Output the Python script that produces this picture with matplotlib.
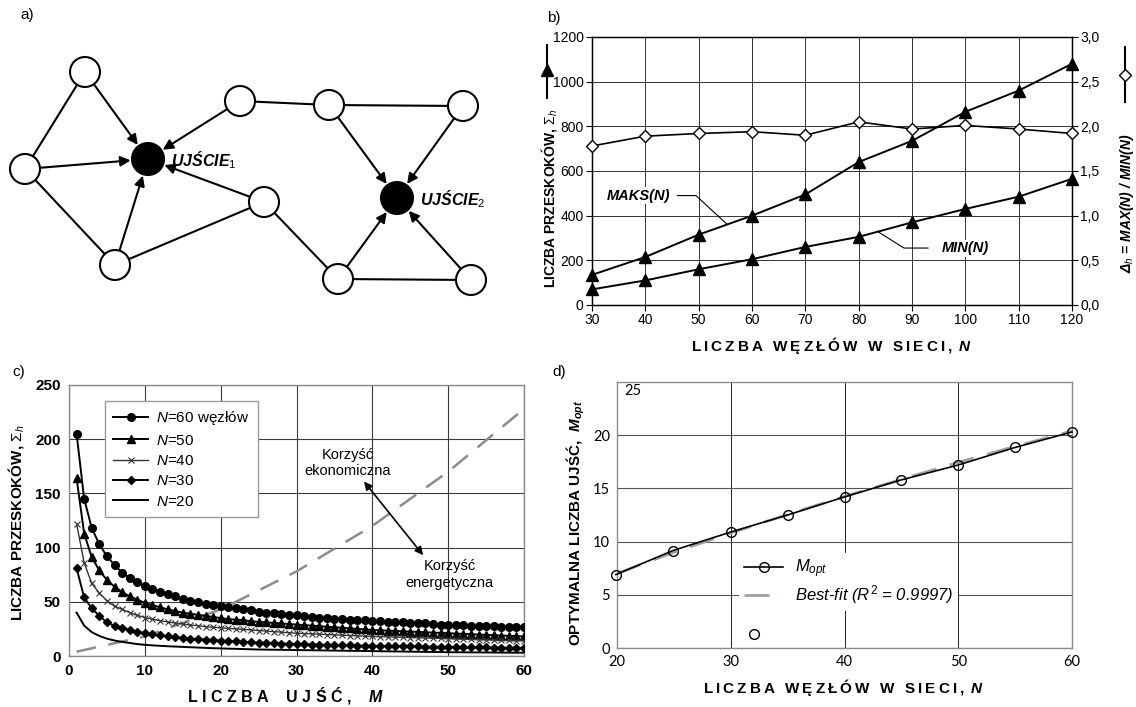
import matplotlib
matplotlib.use('Agg')
import matplotlib.pyplot as plt
from matplotlib.patches import Circle
from matplotlib.lines import Line2D
import numpy as np

plt.rcParams['font.family'] = ['Liberation Sans', 'DejaVu Sans']
plt.rcParams['mathtext.fontset'] = 'custom'
plt.rcParams['mathtext.rm'] = 'Liberation Sans'
plt.rcParams['mathtext.it'] = 'Liberation Sans:italic'
plt.rcParams['mathtext.bf'] = 'Liberation Sans:bold'
plt.rcParams['mathtext.bfit'] = 'Liberation Sans:italic:bold'

# ---- panel a: network (positions in pixels of the panel) ----
node_names = ['TL', 'L', 'BL', 'TM', 'M', 'TRM', 'TR', 'BMR', 'BR']
node_x = [85, 25, 115, 240, 264, 329, 463, 338, 471]
node_y = [72, 169, 265, 101, 202, 105, 106, 279, 280]
sink_names = ['S1', 'S2']
sink_x = [148, 397]
sink_y = [159, 198]
sink_labels = ['UJŚCIE$_1$', 'UJŚCIE$_2$']
arrow_edges = [('TL', 'S1'), ('L', 'S1'), ('BL', 'S1'), ('M', 'S1'), ('TM', 'S1'),
               ('TRM', 'S2'), ('TR', 'S2'), ('BMR', 'S2'), ('BR', 'S2')]
plain_edges = [('TL', 'L'), ('L', 'BL'), ('BL', 'M'), ('TM', 'TRM'),
               ('TRM', 'TR'), ('M', 'BMR'), ('BMR', 'BR')]

# ---- panel b ----
n_b = [30, 40, 50, 60, 70, 80, 90, 100, 110, 120]
maks_b = [135, 215, 315, 400, 495, 640, 735, 865, 960, 1080]
min_b = [70, 110, 160, 205, 260, 305, 370, 430, 485, 565]
delta_b = [1.78, 1.89, 1.92, 1.94, 1.90, 2.05, 1.97, 2.01, 1.97, 1.92]

# ---- panel c ----
m_c = list(range(1, 61))
n60 = [205, 145, 118, 103, 92, 84, 77, 72, 68, 65, 62, 59, 57, 55, 53, 51, 50, 48, 47, 46,
       45, 44, 43, 42, 41, 40, 39.5, 39, 38, 37.5, 37, 36, 35.5, 35, 34.5, 34, 33.5, 33, 33, 32.5,
       32, 31.5, 31, 31, 30.5, 30, 30, 29.5, 29, 29, 28.5, 28.5, 28, 28, 27.5, 27.5, 27, 27, 26.5, 26.5]
n50 = [164, 113, 91, 79, 70, 64, 59, 55, 52, 49, 47, 45, 43, 41.5, 40, 39, 38, 37, 36, 35,
       34, 33.5, 33, 32, 31.5, 31, 30.5, 30, 29.5, 29, 28.5, 28, 27.5, 27, 26.5, 26, 25.5, 25, 24.5, 24,
       23.7, 23.4, 23.1, 22.8, 22.5, 22.2, 21.9, 21.6, 21.3, 21, 20.7, 20.4, 20.1, 19.8, 19.5, 19.2, 18.9, 18.6, 18.3, 18]
n40 = [122, 86, 67, 58, 51, 46, 43, 40, 37.5, 35.5, 34, 32.5, 31.5, 30.5, 29.5, 28.5, 28, 27, 26.5, 26,
       25.5, 25, 24.5, 24, 23.5, 23, 22.5, 22, 21.5, 21, 20.7, 20.4, 20.1, 19.8, 19.5, 19.2, 18.9, 18.6, 18.3, 18,
       17.8, 17.6, 17.4, 17.2, 17, 16.8, 16.6, 16.4, 16.2, 15.9, 15.7, 15.5, 15.3, 15.1, 14.9, 14.7, 14.5, 14.3, 14.1, 14]
n30 = [81, 54, 44, 37, 31, 28, 26, 24, 22.5, 21, 20, 19, 18, 17.3, 16.7, 16.1, 15.6, 15.1, 14.6, 14.2,
       13.8, 13.4, 13, 12.7, 12.4, 12.1, 11.8, 11.5, 11.2, 11, 10.8, 10.6, 10.4, 10.2, 10, 9.8, 9.7, 9.6, 9.5, 9.4,
       9.3, 9.2, 9.1, 9, 8.9, 8.8, 8.7, 8.6, 8.5, 8.4, 8.3, 8.2, 8.1, 8, 7.9, 7.8, 7.7, 7.6, 7.6, 7.5]
n20 = [40, 28, 22, 18.5, 16, 14.3, 13, 12, 11, 10.3, 9.8, 9.4, 9, 8.7, 8.4, 8.1, 7.8, 7.5, 7.2, 7,
       6.8, 6.6, 6.4, 6.2, 6, 5.9, 5.8, 5.7, 5.6, 5.5, 5.4, 5.3, 5.2, 5.1, 5, 4.9, 4.8, 4.7, 4.6, 4.5,
       4.4, 4.3, 4.2, 4.1, 4, 3.9, 3.8, 3.7, 3.6, 3.5, 3.45, 3.4, 3.35, 3.3, 3.25, 3.2, 3.15, 3.1, 3.05, 3]
cost_m = [1, 10, 20, 30, 40, 50, 60]
cost_c = [4, 18, 43, 78, 120, 170, 228]

# ---- panel d ----
n_d = [19.9, 24.9, 30, 35, 40, 45, 50, 55, 60]
mopt_d = [6.9, 9.15, 10.9, 12.5, 14.2, 15.8, 17.2, 18.85, 20.3]
fit_n = [20, 25, 30, 35, 40, 45, 50, 55, 60]
fit_m = [7.0, 9.0, 10.8, 12.55, 14.25, 15.85, 17.45, 18.95, 20.4]
stray_n = [32.05]
stray_m = [1.3]

W, H = 1136, 707
fig = plt.figure(figsize=(W / 100, H / 100), dpi=100)


def ax_px(l, t, r, b):
    return fig.add_axes([l / W, 1 - b / H, (r - l) / W, (b - t) / H])


def ftext(x, y, s, **kw):
    return fig.text(x / W, 1 - y / H, s, **kw)


def spaced(s, sep='\u2009'):
    return sep.join(list(s))


# ================= a) =================
axa = ax_px(0, 0, 520, 330)
axa.set_xlim(0, 520)
axa.set_ylim(330, 0)
axa.axis('off')
pos = {}
for nm, x, y in zip(node_names, node_x, node_y):
    pos[nm] = (x, y)
for nm, x, y in zip(sink_names, sink_x, sink_y):
    pos[nm] = (x, y)

r_node = 15
r_sink = 16
for a, b in plain_edges:
    axa.plot([pos[a][0], pos[b][0]], [pos[a][1], pos[b][1]], color='black', lw=1.5, zorder=1)
for a, b in arrow_edges:
    axa.annotate('', xy=pos[b], xytext=pos[a],
                 arrowprops=dict(arrowstyle='-|>', color='black', lw=1.5,
                                 mutation_scale=15, shrinkA=r_node * 0.72, shrinkB=r_sink * 0.72 + 1),
                 zorder=1)
for nm in node_names:
    axa.add_patch(Circle(pos[nm], r_node, facecolor='white', edgecolor='black', lw=1.5, zorder=2))
for nm, lab in zip(sink_names, sink_labels):
    axa.add_patch(Circle(pos[nm], r_sink, facecolor='black', edgecolor='black', lw=1.5, zorder=2))
    axa.text(pos[nm][0] + 23, pos[nm][1] + 1, lab, fontsize=11.5, fontweight='bold',
             fontstyle='italic', va='center', ha='left')
ftext(20, 15, 'a)', fontsize=11, va='center')

# ================= b) =================
axb = ax_px(592, 37, 1072, 305)
axb.plot(n_b, maks_b, color='black', lw=1.4, marker='^', ms=8, zorder=3, clip_on=False)
axb.plot(n_b, min_b, color='black', lw=1.4, marker='^', ms=8, zorder=3, clip_on=False)
axb.set_xlim(30, 120)
axb.set_ylim(0, 1200)
axb.set_xticks(n_b)
axb.set_yticks(range(0, 1201, 200))
axb.grid(True, color='#333333', lw=0.7)
axb.tick_params(direction='out', length=4, labelsize=10, pad=2)
for s in axb.spines.values():
    s.set_linewidth(0.9)
axb2 = axb.twinx()
axb2.plot(n_b, delta_b, color='black', lw=1.2, marker='D', ms=6, mfc='white', mec='black',
          zorder=3, clip_on=False)
axb2.set_ylim(0, 3)
axb2.set_yticks([0, 0.5, 1, 1.5, 2, 2.5, 3])
axb2.set_yticklabels(['0,0', '0,5', '1,0', '1,5', '2,0', '2,5', '3,0'])
axb2.tick_params(direction='out', length=4, labelsize=10, pad=2)
for s in axb2.spines.values():
    s.set_linewidth(0.9)

axb.text(38.8, 490, 'MAKS(N)', fontsize=10.5, fontweight='bold', fontstyle='italic',
         ha='center', va='center', zorder=4,
         bbox=dict(facecolor='white', edgecolor='none', pad=1))
axb.plot([46, 49.5, 55.3], [490, 490, 362], color='black', lw=0.8, zorder=4)
axb.text(100, 255, 'MIN(N)', fontsize=10.5, fontweight='bold', fontstyle='italic',
         ha='center', va='center', zorder=4,
         bbox=dict(facecolor='white', edgecolor='none', pad=1))
axb.plot([93, 88.5, 83.5], [255, 255, 330], color='black', lw=0.8, zorder=4)

ftext(547, 18, 'b)', fontsize=11, va='center')
ftext(549, 198, 'LICZBA PRZESKOKÓW, $\\mathit{Σ}_h$', fontsize=10, fontweight='bold',
      rotation=90, ha='center', va='center')
ftext(1127, 203, 'Δ$_h$ = MAX(N) / MIN(N)', fontsize=10, fontweight='bold', fontstyle='italic',
      rotation=90, ha='center', va='center')
fig.add_artist(Line2D([547 / W, 547 / W], [1 - 45 / H, 1 - 98 / H], color='black', lw=1.5))
fig.add_artist(Line2D([547 / W], [1 - 70 / H], color='black', marker='^', ms=9))
fig.add_artist(Line2D([1125 / W, 1125 / W], [1 - 47 / H, 1 - 102 / H], color='black', lw=1.5))
fig.add_artist(Line2D([1125 / W], [1 - 75 / H], color='black', marker='D', ms=6,
                      mfc='white', mec='black'))
ftext(832, 345, spaced('LICZBA WĘZŁÓW W SIECI, ') + '$\\mathbfit{N}$', fontsize=11,
      fontweight='bold', ha='center', va='center')

# ================= c) =================
axc = ax_px(69, 385, 524, 656)
axc.plot(m_c, n60, color='black', lw=1.4, marker='o', ms=5.5, label='$N$=60 węzłów', zorder=4)
axc.plot(m_c, n50, color='black', lw=1.4, marker='^', ms=5.5, label='$N$=50', zorder=4)
axc.plot(m_c, n40, color='#333333', lw=1.0, marker='x', ms=4, mew=0.8, label='$N$=40', zorder=4)
axc.plot(m_c, n30, color='black', lw=1.4, marker='D', ms=4.5, label='$N$=30', zorder=4)
axc.plot(m_c, n20, color='black', lw=1.4, label='$N$=20', zorder=4)
axc.plot(cost_m, cost_c, color='#8c8c8c', lw=1.8, dashes=(8, 5), zorder=3)
axc.set_xlim(0, 60)
axc.set_ylim(0, 250)
axc.set_xticks(range(0, 61, 10))
axc.set_yticks(range(0, 251, 50))
axc.grid(True, color='#3a3a3a', lw=0.8)
axc.tick_params(length=0, labelsize=11, pad=6)
for lab in axc.get_xticklabels() + axc.get_yticklabels():
    lab.set_fontweight('bold')
for s in axc.spines.values():
    s.set_color('#8a8a8a')
    s.set_linewidth(1.0)
leg = axc.legend(loc='upper left', bbox_to_anchor=(0.062, 0.97), fontsize=11, frameon=True,
                 fancybox=False, edgecolor='#9a9a9a', handlelength=2.3, handletextpad=0.5,
                 labelspacing=0.42, borderpad=0.55, framealpha=1)
leg.get_frame().set_linewidth(1.0)
axc.annotate('', xy=(38.9, 161), xytext=(46.7, 93),
             arrowprops=dict(arrowstyle='<|-|>', color='black', lw=1.2, mutation_scale=12,
                             shrinkA=0, shrinkB=0), zorder=5)
axc.text(36.8, 178, 'Korzyść\nekonomiczna', fontsize=10.5, ha='center', va='center',
         linespacing=1.25, zorder=5)
axc.text(50.2, 75, 'Korzyść\nenergetyczna', fontsize=10.5, ha='center', va='center',
         linespacing=1.25, zorder=5)
ftext(12, 372, 'c)', fontsize=11, va='center')
ftext(16, 523, 'LICZBA PRZESKOKÓW, $\\mathit{Σ}_h$', fontsize=11, fontweight='bold',
      rotation=90, ha='center', va='center')
ftext(285, 695, 'L I C Z B A    U J Ś Ć ,    $\\mathbfit{M}$', fontsize=11.5, fontweight='bold',
      ha='center', va='center')

# ================= d) =================
axd = ax_px(617, 382, 1072, 648)
axd.plot(fit_n, fit_m, color='#a0a0a0', lw=2.0, dashes=(9, 5), zorder=3,
         label='Best-fit ($R^2$ = 0.9997)')
axd.plot(n_d, mopt_d, color='black', lw=1.2, marker='o', ms=7, mfc='none', mec='black',
         mew=1.0, zorder=4, clip_on=False, label='$M_{opt}$')
axd.plot(stray_n, stray_m, ls='none', marker='o', ms=7, mfc='none', mec='black', mew=1.0)
axd.set_xlim(20, 60)
axd.set_ylim(0, 25)
axd.set_xticks(range(20, 61, 10))
axd.set_yticks(range(0, 21, 5))
axd.tick_params(length=0, labelsize=10.5, pad=5)
for lab in axd.get_xticklabels() + axd.get_yticklabels():
    lab.set_fontfamily('Lato')
axd.yaxis.grid(True, color='#555555', lw=0.8)
axd.xaxis.grid(True, color='#222222', lw=0.7)
for s in axd.spines.values():
    s.set_color('#8a8a8a')
    s.set_linewidth(1.0)
axd.text(21.4, 24.2, '25', fontsize=10.5, family='Lato', ha='center', va='center')
h, l = axd.get_legend_handles_labels()
legd = axd.legend(h[::-1], l[::-1], loc='upper left', bbox_to_anchor=(0.25, 0.39),
                  prop={'size': 12, 'style': 'italic'}, frameon=True, fancybox=False,
                  edgecolor='none', facecolor='white', framealpha=1, handlelength=2.35,
                  handletextpad=0.7, labelspacing=0.2, borderpad=0.3)
ftext(552, 372, 'd)', fontsize=11, va='center')
ftext(576, 523, 'OPTYMALNA LICZBA UJŚĆ,  $\\mathbfit{M_{opt}}$', fontsize=11, fontweight='bold',
      rotation=90, ha='center', va='center')
ftext(844, 688, spaced('LICZBA WĘZŁÓW W SIECI, ') + '$\\mathbfit{N}$', fontsize=11,
      fontweight='bold', ha='center', va='center')

fig.savefig('out.png', dpi=100)
